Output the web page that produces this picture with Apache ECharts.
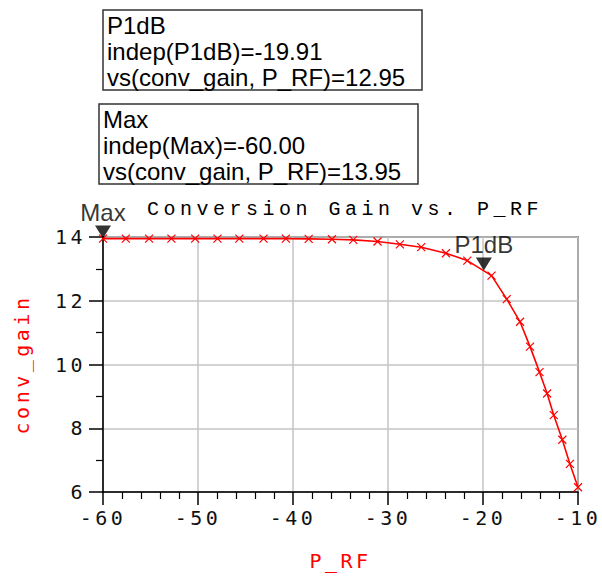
<!DOCTYPE html>
<html>
<head>
<meta charset="utf-8">
<title>Conversion Gain vs. P_RF</title>
<script src="https://cdn.jsdelivr.net/npm/echarts@6/dist/echarts.min.js"></script>
<style>
  html, body { margin: 0; padding: 0; background: #fff; }
  #chart { width: 602px; height: 576px; }
  /* ADS plot font is spaced out wide, only the mono texts get it */
  #chart text[style*="DejaVu Sans Mono"] { letter-spacing: 3.5px; }
  #chart text[style*="Liberation Mono"] { letter-spacing: 4.5px; }
</style>
</head>
<body>
<div id="chart"></div>
<script>
// P_RF (dBm) at the plotted symbols
const pRF = [-60, -57.6, -55.15, -52.8, -50.3, -47.95, -45.65, -43.1, -40.75,
  -38.35, -35.9, -33.65, -31.1, -28.75, -26.5, -23.9, -21.65, -19.1,
  -17.5, -16.1, -15.05, -14.05, -13.25, -12.55, -11.65, -10.85, -10];
// conv_gain (dB)
const convGain = [13.95, 13.95, 13.95, 13.95, 13.95, 13.95, 13.95, 13.95, 13.95,
  13.94, 13.93, 13.91, 13.86, 13.77, 13.68, 13.49, 13.26, 12.79,
  12.05, 11.34, 10.56, 9.76, 9.09, 8.41, 7.64, 6.88, 6.15];

// marker readouts
const markerNames = ["Max", "P1dB"];
const markerX = [-60.0, -19.91];
const markerY = [13.95, 12.95];

// axis ticks
const xMin = -60, xMax = -10, xStep = 10;
const yMin = 6, yMax = 14, yStep = 2;

const monoFont = "DejaVu Sans Mono";
const sansFont = "Liberation Sans";

function readout(i) {
  return markerNames[i] + "\n" +
    "indep(" + markerNames[i] + ")=" + markerX[i].toFixed(2) + "\n" +
    "vs(conv_gain, P_RF)=" + markerY[i].toFixed(2);
}

const boxText = {
  fontFamily: sansFont,
  fontSize: 24,
  lineHeight: 26,
  fontWeight: "normal",
  color: "#000",
};

var myChart = echarts.init(document.getElementById("chart"), null, { renderer: "svg" });
myChart.setOption({
  animation: false,
  title: [
    {
      text: readout(1),
      left: 103,
      top: 10,
      padding: [2, 17, 0, 4],
      borderColor: "#333",
      borderWidth: 1.5,
      textStyle: boxText,
    },
    {
      text: readout(0),
      left: 99,
      top: 104,
      padding: [2, 17, 0, 4],
      borderColor: "#333",
      borderWidth: 1.5,
      textStyle: boxText,
    },
    {
      text: "Conversion Gain vs. P_RF",
      left: 142,
      top: 194,
      textStyle: {
        fontFamily: "Liberation Mono",
        fontSize: 20,
        fontWeight: "normal",
        color: "#000",
      },
    },
  ],
  grid: {
    left: 103,
    right: 24,
    top: 237,
    bottom: 84,
    show: true,
    borderColor: "#333",
    borderWidth: 1.5,
  },
  xAxis: {
    type: "value",
    min: xMin,
    max: xMax,
    interval: xStep,
    name: "P_RF",
    nameLocation: "middle",
    nameGap: 59,
    nameTextStyle: { fontFamily: monoFont, fontSize: 20, color: "#ff0000" },
    axisLine: { lineStyle: { color: "#000", width: 1.5 } },
    axisTick: { length: 13, lineStyle: { color: "#000", width: 1.5 } },
    minorTick: { show: true, splitNumber: 5, length: 7, lineStyle: { color: "#000", width: 1.2 } },
    axisLabel: { margin: 16, fontFamily: monoFont, fontSize: 20, color: "#111" },
    splitLine: { lineStyle: { color: "#c4c4c4", width: 1.5 } },
  },
  yAxis: {
    type: "value",
    min: yMin,
    max: yMax,
    interval: yStep,
    name: "conv_gain",
    nameLocation: "middle",
    nameGap: 71,
    nameTextStyle: { fontFamily: monoFont, fontSize: 20, color: "#ff0000" },
    axisLine: { lineStyle: { color: "#000", width: 1.5 } },
    axisTick: { length: 14, lineStyle: { color: "#000", width: 1.5 } },
    minorTick: { show: true, splitNumber: 2, length: 7, lineStyle: { color: "#000", width: 1.2 } },
    axisLabel: { margin: 17, fontFamily: monoFont, fontSize: 20, color: "#111" },
    splitLine: { lineStyle: { color: "#c4c4c4", width: 1.5 } },
  },
  series: [
    {
      type: "line",
      data: pRF.map((x, i) => [x, convGain[i]]),
      symbol: "path://M0 0L10 10M10 0L0 10",
      symbolSize: 8,
      showAllSymbol: true,
      lineStyle: { color: "#ff0000", width: 1.6 },
      itemStyle: { color: "#ff0000", borderColor: "#ff0000", borderWidth: 1.2 },
      emphasis: { disabled: true },
      z: 3,
    },
    {
      // ADS markers: down triangle, tip on the point
      type: "scatter",
      data: markerNames.map((n, i) => ({ name: n, value: [markerX[i], markerY[i]] })),
      symbol: "path://M0 0L16 0L8 13Z",
      symbolSize: [16, 13],
      symbolOffset: [0, -6.5],
      itemStyle: { color: "#000" },
      label: {
        show: true,
        position: "top",
        distance: 1,
        formatter: "{b}",
        fontFamily: sansFont,
        fontSize: 24,
        color: "#000",
      },
      emphasis: { disabled: true },
      z: 5,
    },
  ],
});
</script>
</body>
</html>
